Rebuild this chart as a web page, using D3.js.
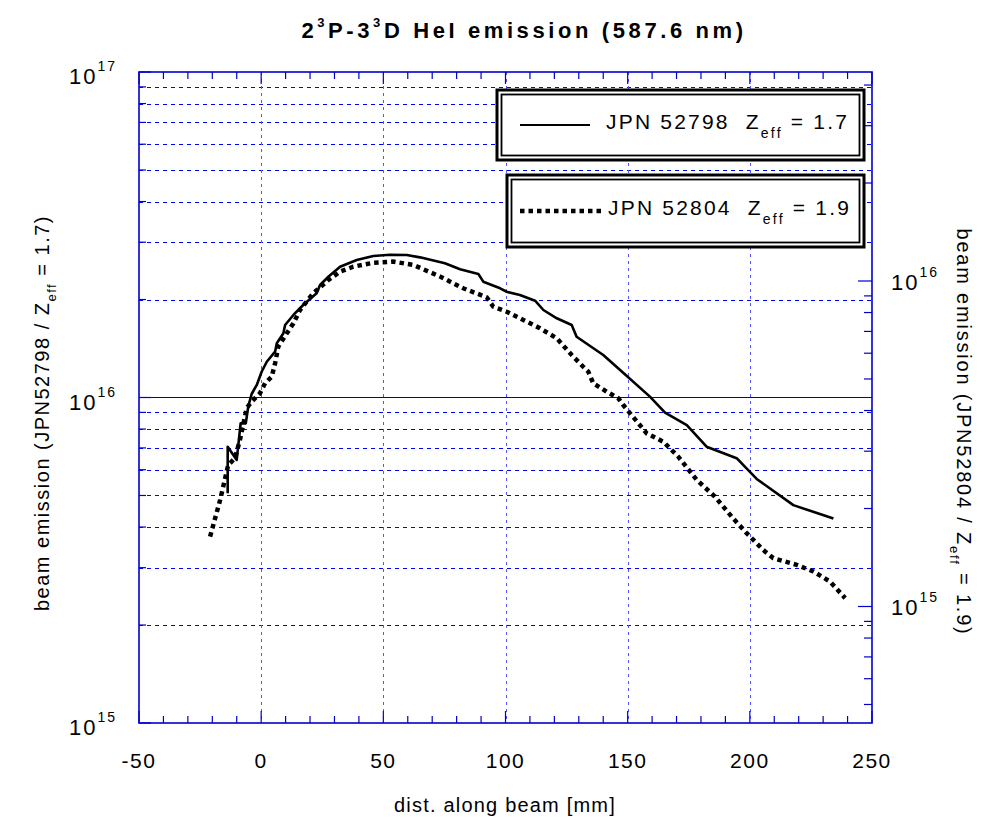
<!DOCTYPE html>
<html>
<head>
<meta charset="utf-8">
<script src="https://cdn.jsdelivr.net/npm/d3@7"></script>
<style>
  body { margin: 0; background: #fff; }
  text { font-family: "Liberation Sans", Arial, sans-serif; fill: #000; white-space: pre; }
</style>
</head>
<body>
<div id="chart"></div>
<script>
// JPN 52798, Z_eff = 1.7 (left axis): [dist mm, emission]
const jpn52798 = [
  [-13.7, 5.08e15], [-13.7, 7.06e15], [-10.0, 6.43e15], [-8.4, 8.33e15], [-6.3, 8.33e15],
  [-5.3, 9.37e15], [-3.9, 1.025e16], [-1.8, 1.093e16], [0.2, 1.20e16], [2.3, 1.288e16],
  [5.7, 1.383e16], [6.4, 1.467e16], [9.1, 1.575e16], [9.8, 1.670e16], [13.2, 1.793e16],
  [17.2, 1.924e16], [22.7, 2.09e16], [24.1, 2.216e16], [27.5, 2.35e16], [32.3, 2.522e16],
  [39.1, 2.645e16], [45.9, 2.72e16], [52.7, 2.746e16], [59.6, 2.74e16], [65.0, 2.695e16],
  [75.2, 2.584e16], [81.4, 2.477e16], [88.9, 2.396e16], [90.9, 2.269e16], [97.8, 2.165e16],
  [100.5, 2.113e16], [105.9, 2.065e16], [112.1, 1.983e16], [115.5, 1.857e16], [121.0, 1.751e16],
  [127.1, 1.670e16], [129.1, 1.537e16], [140.0, 1.351e16], [146.9, 1.215e16], [159.1, 1.006e16],
  [165.3, 8.98e15], [174.2, 8.23e15], [182.3, 7.06e15], [194.6, 6.51e15], [202.8, 5.62e15],
  [217.8, 4.67e15], [234.2, 4.25e15]
];

// JPN 52804, Z_eff = 1.9 (right axis)
const jpn52804 = [
  [-20.9, 1.640e15], [-16.8, 2.123e15], [-13.5, 2.719e15], [-10.7, 2.855e15], [-8.7, 3.246e15],
  [-5.9, 4.070e15], [-3.9, 4.259e15], [-0.5, 4.518e15], [1.6, 4.851e15], [4.3, 5.079e15],
  [5.7, 5.588e15], [7.0, 6.285e15], [10.5, 6.908e15], [13.2, 7.412e15], [15.9, 8.145e15],
  [21.3, 9.167e15], [27.5, 1.007e16], [32.3, 1.068e16], [37.7, 1.106e16], [45.9, 1.138e16],
  [54.1, 1.147e16], [62.3, 1.120e16], [73.2, 1.032e16], [82.7, 9.496e15], [92.3, 8.912e15],
  [95.0, 8.338e15], [100.5, 8.048e15], [107.3, 7.588e15], [114.1, 7.158e15], [121.0, 6.667e15],
  [127.1, 5.925e15], [131.8, 5.452e15], [133.9, 5.263e15], [135.9, 4.851e15], [141.4, 4.570e15],
  [146.2, 4.360e15], [148.2, 4.158e15], [151.0, 3.921e15], [157.8, 3.404e15], [164.6, 3.206e15],
  [170.7, 2.886e15], [178.3, 2.447e15], [185.7, 2.175e15], [193.2, 1.864e15], [198.7, 1.680e15],
  [205.5, 1.491e15], [209.6, 1.408e15], [219.2, 1.342e15], [226.0, 1.281e15], [232.8, 1.193e15],
  [239.0, 1.061e15]
];

const xDomain = [-50, 250];
const xTicks = [-50, 0, 50, 100, 150, 200, 250];
const yLeftDomain = [1e15, 1e17];
const yRightDomain = [4.386e14, 4.386e16];
const legendItems = [
  { shot: "JPN 52798", zeff: "1.7", dash: null },
  { shot: "JPN 52804", zeff: "1.9", dash: "4.5,4" }
];

const width = 991, height = 820;
const margin = { top: 72, right: 119, bottom: 97, left: 139 };
const x0 = margin.left, x1 = width - margin.right;
const y0 = margin.top, y1 = height - margin.bottom;

const axisColor = "#0000cc";
const gridColor = "#0000ff";

const x = d3.scaleLinear().domain(xDomain).range([x0, x1]);
const yL = d3.scaleLog().domain(yLeftDomain).range([y1, y0]);
const yR = d3.scaleLog().domain(yRightDomain).range([y1, y0]);
const crisp = (v) => Math.round(v) + 0.5;

const svg = d3.select("#chart").append("svg")
  .attr("width", width)
  .attr("height", height);

const isDecade = (v) => Math.abs(Math.log10(v) - Math.round(Math.log10(v))) < 1e-9;

// grid
const gGrid = svg.append("g").attr("class", "grid").attr("shape-rendering", "crispEdges");
const leftTicks = yL.ticks();
gGrid.selectAll(".hgrid")
  .data(leftTicks.filter((d) => !isDecade(d)))
  .join("line")
  .attr("class", "hgrid")
  .attr("x1", x0).attr("x2", x1)
  .attr("y1", (d) => crisp(yL(d))).attr("y2", (d) => crisp(yL(d)))
  .attr("stroke", gridColor)
  .attr("stroke-width", 1)
  .attr("stroke-dasharray", "4,4");

gGrid.append("line")
  .attr("x1", x0).attr("x2", x1)
  .attr("y1", crisp(yL(1e16))).attr("y2", crisp(yL(1e16)))
  .attr("stroke", axisColor)
  .attr("stroke-width", 1);

gGrid.selectAll(".vgrid")
  .data(xTicks.slice(1, -1))
  .join("line")
  .attr("class", "vgrid")
  .attr("x1", (d) => crisp(x(d))).attr("x2", (d) => crisp(x(d)))
  .attr("y1", y0).attr("y2", y1)
  .attr("stroke", "#5555ff")
  .attr("stroke-width", 1)
  .attr("stroke-dasharray", "3,4");

// ticks
const gTicks = svg.append("g").attr("class", "ticks")
  .attr("stroke", axisColor).attr("stroke-width", 1.2);
const xMinor = d3.range(xDomain[0], xDomain[1] + 1, 10);
[y0, y1].forEach((yy) => {
  const dir = yy === y0 ? 1 : -1;
  gTicks.append("g").selectAll("line")
    .data(xMinor)
    .join("line")
    .attr("x1", (d) => x(d)).attr("x2", (d) => x(d))
    .attr("y1", yy)
    .attr("y2", (d) => yy + dir * (d % 50 === 0 ? 12 : 7));
});
gTicks.append("g").selectAll("line")
  .data(leftTicks)
  .join("line")
  .attr("x1", x0)
  .attr("x2", (d) => x0 + (isDecade(d) ? 12 : 7))
  .attr("y1", (d) => yL(d)).attr("y2", (d) => yL(d));
gTicks.append("g").selectAll("line")
  .data(yR.ticks())
  .join("line")
  .attr("x1", x1)
  .attr("x2", (d) => x1 - (isDecade(d) ? 14 : 8))
  .attr("y1", (d) => yR(d)).attr("y2", (d) => yR(d));

// frame
svg.append("rect")
  .attr("x", x0).attr("y", y0)
  .attr("width", x1 - x0).attr("height", y1 - y0)
  .attr("fill", "none")
  .attr("stroke", axisColor)
  .attr("stroke-width", 1.6);

// curves
const lineL = d3.line().x((d) => x(d[0])).y((d) => yL(d[1]));
const lineR = d3.line().x((d) => x(d[0])).y((d) => yR(d[1]));

svg.append("path")
  .datum(jpn52798)
  .attr("d", lineL)
  .attr("fill", "none")
  .attr("stroke", "#000")
  .attr("stroke-width", 2.6)
  .attr("stroke-linejoin", "round");

svg.append("path")
  .datum(jpn52804)
  .attr("d", lineR)
  .attr("fill", "none")
  .attr("stroke", "#000")
  .attr("stroke-width", 4.5)
  .attr("stroke-dasharray", "4.5,4");

// tick labels
svg.append("g").selectAll("text")
  .data(xTicks)
  .join("text")
  .attr("x", (d) => x(d))
  .attr("y", 768)
  .attr("text-anchor", "middle")
  .attr("font-size", 21)
  .attr("letter-spacing", 1.5)
  .text((d) => d);

function powerLabel(g, value, px, py, anchor) {
  const t = g.append("text")
    .attr("x", px).attr("y", py)
    .attr("text-anchor", anchor)
    .attr("font-size", 22)
    .attr("letter-spacing", 2);
  t.append("tspan").text("10");
  t.append("tspan")
    .attr("font-size", 14)
    .attr("dy", -13)
    .text(Math.round(Math.log10(value)));
}

const gLabels = svg.append("g");
leftTicks.filter(isDecade).forEach((d) => powerLabel(gLabels, d, 117, yL(d) + 12, "end"));
yR.ticks().filter(isDecade).forEach((d) => powerLabel(gLabels, d, 891, yR(d) + 9, "start"));

// title
const title = svg.append("text")
  .attr("x", 524)
  .attr("y", 38)
  .attr("text-anchor", "middle")
  .attr("font-size", 22)
  .attr("font-weight", "bold")
  .attr("letter-spacing", 3.6);
title.append("tspan").text("2");
title.append("tspan").attr("font-size", 13).attr("dy", -11).text("3");
title.append("tspan").attr("dy", 11).text("P-3");
title.append("tspan").attr("font-size", 13).attr("dy", -11).text("3");
title.append("tspan").attr("dy", 11).text("D HeI emission (587.6 nm)");

// axis titles
svg.append("text")
  .attr("x", 505)
  .attr("y", 812)
  .attr("text-anchor", "middle")
  .attr("font-size", 20)
  .attr("letter-spacing", 1.2)
  .text("dist. along beam [mm]");

function zeffLabel(sel, shot, zeff, size) {
  sel.append("tspan").text(`beam emission (${shot} / Z`);
  sel.append("tspan").attr("font-size", size * 0.65).attr("dy", 7).text("eff");
  sel.append("tspan").attr("dy", -7).text(` = ${zeff})`);
}

const leftTitle = svg.append("text")
  .attr("transform", "translate(49,413) rotate(-90)")
  .attr("text-anchor", "middle")
  .attr("font-size", 20)
  .attr("letter-spacing", 1.5);
zeffLabel(leftTitle, "JPN52798", "1.7", 20);

const rightTitle = svg.append("text")
  .attr("transform", "translate(957,432) rotate(90)")
  .attr("text-anchor", "middle")
  .attr("font-size", 20)
  .attr("letter-spacing", 1.8);
zeffLabel(rightTitle, "JPN52804", "1.9", 20);

// legend
const legendBoxes = [
  { x: 497, y: 90, w: 367, h: 70 },
  { x: 507, y: 175, w: 357, h: 72 }
];
const gLegend = svg.append("g").attr("class", "legend");
legendItems.forEach((item, i) => {
  const b = legendBoxes[i];
  const g = gLegend.append("g");
  g.append("rect")
    .attr("x", b.x).attr("y", b.y).attr("width", b.w).attr("height", b.h)
    .attr("fill", "#fff").attr("stroke", "#000").attr("stroke-width", 3);
  g.append("rect")
    .attr("x", b.x + 4.5).attr("y", b.y + 4.5).attr("width", b.w - 9).attr("height", b.h - 9)
    .attr("fill", "none").attr("stroke", "#000").attr("stroke-width", 1.8);
  const my = b.y + b.h / 2;
  g.append("line")
    .attr("x1", 520).attr("x2", item.dash ? 602 : 590)
    .attr("y1", my).attr("y2", my)
    .attr("stroke", "#000")
    .attr("stroke-width", item.dash ? 4.5 : 2)
    .attr("stroke-dasharray", item.dash);
  const t = g.append("text")
    .attr("x", i === 0 ? 606 : 608)
    .attr("y", my + 4)
    .attr("font-size", 21)
    .attr("letter-spacing", 2.2);
  t.append("tspan").text(`${item.shot}  Z`);
  t.append("tspan").attr("font-size", 14).attr("dy", 9).text("eff");
  t.append("tspan").attr("dy", -9).text(` = ${item.zeff}`);
});
</script>
</body>
</html>
